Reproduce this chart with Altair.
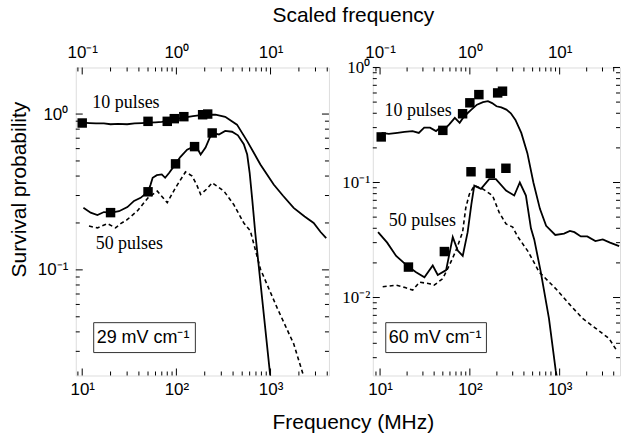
import altair as alt
import pandas as pd
import math

# ---------------- data ----------------
# Left panel (29 mV/cm)
L10_F = [10, 12, 14, 17, 20, 24, 30, 36, 43, 50, 60, 70, 80, 90, 100, 120, 150, 200, 260, 330, 440, 565, 780, 1080, 1350, 1760, 2300, 2870, 3400, 3900]
L10_P = [0.88, 0.875, 0.87, 0.87, 0.86, 0.865, 0.86, 0.87, 0.875, 0.88, 0.885, 0.89, 0.9, 0.91, 0.93, 0.95, 0.97, 0.99, 0.99, 0.96, 0.855, 0.67, 0.475, 0.353, 0.30, 0.25, 0.22, 0.20, 0.175, 0.16]

L50S_F = [10.3, 12.3, 14.5, 17, 20.4, 24.6, 30.2, 35.5, 41.7, 50, 53, 56, 62, 70, 76, 84, 98, 110, 130, 150, 165, 181, 204, 225, 240, 283, 330, 390, 450, 520, 565, 600, 640, 690, 1000, 1050]
L50S_P = [0.25, 0.233, 0.225, 0.235, 0.233, 0.238, 0.253, 0.277, 0.29, 0.317, 0.35, 0.39, 0.405, 0.41, 0.39, 0.42, 0.479, 0.53, 0.59, 0.615, 0.61, 0.55, 0.61, 0.70, 0.756, 0.74, 0.78, 0.77, 0.73, 0.64, 0.55, 0.42, 0.28, 0.17, 0.02, 0.017]

L50D_F = [11.8, 14.5, 18.5, 22.6, 25.6, 30, 38.5, 50, 62.8, 80, 97.8, 125, 147, 165, 181, 210, 240, 320, 406, 520, 610, 782, 1175, 1762, 2250, 2450]
L50D_P = [0.191, 0.186, 0.198, 0.186, 0.198, 0.21, 0.239, 0.29, 0.32, 0.27, 0.336, 0.425, 0.40, 0.35, 0.305, 0.33, 0.362, 0.32, 0.263, 0.20, 0.178, 0.101, 0.057, 0.0335, 0.0207, 0.018]

L10_SQ_F = [10, 50, 80, 95, 120, 190, 215]
L10_SQ_P = [0.876, 0.898, 0.898, 0.934, 0.962, 0.99, 1.0]
L50_SQ_F = [20, 50, 98, 156, 240]
L50_SQ_P = [0.233, 0.317, 0.479, 0.618, 0.756]

# Right panel (60 mV/cm)
R10_F = [10.4, 12.5, 15.6, 18.7, 23, 27, 31, 36, 42, 47, 52, 59, 68, 77, 85, 94, 104, 120, 140, 159, 177, 198, 224, 255, 286, 322, 374, 437, 510, 603, 707, 894, 1120, 1300, 1460, 1720, 2030, 2500, 3020, 3640, 4600]
R10_P = [0.27, 0.265, 0.27, 0.275, 0.28, 0.27, 0.30, 0.30, 0.28, 0.30, 0.29, 0.32, 0.365, 0.33, 0.37, 0.40, 0.43, 0.475, 0.50, 0.51, 0.49, 0.46, 0.45, 0.43, 0.40, 0.35, 0.27, 0.18, 0.10, 0.059, 0.042, 0.035, 0.036, 0.038, 0.037, 0.034, 0.034, 0.031, 0.032, 0.030, 0.028]

R50S_F = [9.5, 12, 15.1, 20.7, 25.2, 31.2, 38.6, 43.9, 54.4, 64.5, 73.3, 83.3, 94.5, 104, 112, 133, 164, 195, 253, 312, 360, 421, 479, 521, 616, 760, 905, 960]
R50S_P = [0.037, 0.03, 0.023, 0.0185, 0.0166, 0.015, 0.019, 0.0157, 0.0173, 0.0335, 0.0256, 0.023, 0.037, 0.065, 0.094, 0.088, 0.107, 0.107, 0.085, 0.077, 0.10, 0.077, 0.04, 0.032, 0.0167, 0.0066, 0.0023, 0.0018]

R50D_F = [10.7, 15.1, 19, 23.1, 27.5, 35.5, 40, 49.9, 59, 70, 83, 90, 98.6, 112, 139, 179, 212, 253, 300, 340, 450, 590, 908, 1276, 1792, 2523, 3548, 4385]
R50D_P = [0.0124, 0.0128, 0.0122, 0.0116, 0.0136, 0.0132, 0.0128, 0.0146, 0.019, 0.0256, 0.037, 0.06, 0.079, 0.094, 0.088, 0.077, 0.055, 0.0436, 0.041, 0.034, 0.0248, 0.0167, 0.0119, 0.0088, 0.0066, 0.0054, 0.0044, 0.0034]

R10_SQ_F = [10.3, 50, 83, 100, 126, 204, 231]
R10_SQ_P = [0.249, 0.284, 0.396, 0.493, 0.581, 0.601, 0.622]
R50_SQ_F = [20.7, 52, 103, 169, 252]
R50_SQ_P = [0.0184, 0.0251, 0.124, 0.12, 0.133]

# annotation labels and their anchor points (MHz, probability)
L_NOTES = ["10 pulses", "50 pulses"]
L_NOTE_F = [12.8, 13.9]
L_NOTE_P = [1.18, 0.146]
R_NOTES = ["10 pulses", "50 pulses"]
R_NOTE_F = [11.2, 12.5]
R_NOTE_P = [0.42, 0.0466]

FIELD_LABELS = ["29 mV cm\u207b\u00b9", "60 mV cm\u207b\u00b9"]

# tick positions
X_MAJOR = [10, 100, 1000]
X_MINOR = [9, 20, 30, 40, 50, 60, 70, 80, 90, 200, 300, 400, 500, 600, 700, 800, 900, 2000, 3000, 4000]
YL_MAJOR = [0.1, 1]
YL_MINOR = [0.03, 0.04, 0.05, 0.06, 0.07, 0.08, 0.09, 0.2, 0.3, 0.4, 0.5, 0.6, 0.7, 0.8, 0.9]
YR_MAJOR = [0.01, 0.1, 1]
YR_MINOR = [0.003, 0.004, 0.005, 0.006, 0.007, 0.008, 0.009, 0.02, 0.03, 0.04, 0.05, 0.06, 0.07, 0.08, 0.09,
            0.2, 0.3, 0.4, 0.5, 0.6, 0.7, 0.8, 0.9]

SANS = "Liberation Sans"
SERIF = "Liberation Serif"
SUP = {-3: "\u207b\u00b3", -2: "\u207b\u00b2", -1: "\u207b\u00b9", 0: "\u2070", 1: "\u00b9", 2: "\u00b2", 3: "\u00b3", 4: "\u2074"}


def label_expr(exps, offset=0):
    e = "round(log(datum.value)/LN10)"
    s = "''"
    for k in exps:
        s = f"({e} == {k} ? '10{SUP[k + offset]}' : {s})"
    return s


def long_df(series):
    rows = []
    for name, F, P in series:
        for f, p in zip(F, P):
            rows.append({"s": name, "f": f, "p": p})
    return pd.DataFrame(rows)


def panel(xdom, ydom, W, H, solid, dashed, sq, notes, box_label, box, ymajor, yminor,
          ylab_font, ylab_pad, left_titles):
    xs = alt.Scale(type="log", domain=xdom)
    ys = alt.Scale(type="log", domain=ydom)
    yexps = [round(math.log10(v)) for v in ymajor]

    if left_titles:
        bx_title = dict(title="Frequency (MHz)", titleX=278, titleY=47, titleAlign="center",
                        titleBaseline="middle", titleFontSize=21, titleFont=SANS, titleFontWeight="normal")
        tx_title = dict(title="Scaled frequency", titleX=278, titleY=-52, titleAlign="center",
                        titleBaseline="middle", titleFontSize=21, titleFont=SANS, titleFontWeight="normal")
        y_title = dict(title="Survival probability", titleAngle=270, titleX=-56, titleY=122,
                       titleAlign="center", titleBaseline="middle", titleFontSize=21, titleFont=SANS,
                       titleFontWeight="normal")
    else:
        bx_title = dict(title="")
        tx_title = dict(title="")
        y_title = dict(title="")

    bottom_axis = alt.Axis(values=X_MAJOR, labelExpr=label_expr([1, 2, 3]), ticks=False, domain=False,
                           grid=False, labelPadding=6, labelFont=SANS, labelFontSize=17, labelFlush=False,
                           labelOverlap=False, labelColor="black", **bx_title)
    top_axis = alt.Axis(orient="top", values=X_MAJOR, labelExpr=label_expr([1, 2, 3], offset=-2), ticks=False,
                        domain=False, grid=False, labelPadding=6, labelFont=SANS, labelFontSize=17,
                        labelFlush=False, labelOverlap=False, labelColor="black", **tx_title)
    y_axis = alt.Axis(orient="left", values=ymajor, labelExpr=label_expr(yexps), ticks=False, domain=False,
                      grid=False, labelPadding=ylab_pad, labelFont=ylab_font, labelFontSize=17,
                      labelOverlap=False, labelColor="black", **y_title)

    solid_df = long_df(solid)
    dashed_df = long_df(dashed)
    sq_df = long_df(sq)
    notes_df = pd.DataFrame({"t": notes[0], "f": notes[1], "p": notes[2]})

    lines = alt.Chart(solid_df).mark_line(color="black", strokeWidth=1.8, clip=True).encode(
        x=alt.X("f:Q", scale=xs, axis=bottom_axis),
        y=alt.Y("p:Q", scale=ys, axis=y_axis),
        detail="s:N",
    )
    dash = alt.Chart(dashed_df).mark_line(color="black", strokeWidth=1.6, strokeDash=[4, 3], clip=True).encode(
        x=alt.X("f:Q", scale=xs, axis=None),
        y=alt.Y("p:Q", scale=ys, axis=None),
        detail="s:N",
    )
    squares = alt.Chart(sq_df).mark_square(color="black", size=90, opacity=1).encode(
        x=alt.X("f:Q", scale=xs, axis=top_axis),
        y=alt.Y("p:Q", scale=ys, axis=None),
    )
    texts = alt.Chart(notes_df).mark_text(font=SERIF, fontSize=18, align="left", baseline="middle",
                                          color="black").encode(
        x=alt.X("f:Q", scale=xs, axis=None),
        y=alt.Y("p:Q", scale=ys, axis=None),
        text="t:N",
    )

    layers = [lines, dash, squares, texts]

    def xt(vals, y0, y1):
        return alt.Chart(pd.DataFrame({"v": vals})).mark_rule(color="black", strokeWidth=1).encode(
            x=alt.X("v:Q", scale=xs, axis=None), y=alt.value(y0), y2=alt.value(y1))

    def yt(vals, x0, x1):
        return alt.Chart(pd.DataFrame({"v": vals})).mark_rule(color="black", strokeWidth=1).encode(
            y=alt.Y("v:Q", scale=ys, axis=None), x=alt.value(x0), x2=alt.value(x1))

    layers += [xt(X_MAJOR, H, H - 7), xt(X_MINOR, H, H - 4), xt(X_MAJOR, 0, 7), xt(X_MINOR, 0, 4),
               yt(ymajor, 0, 7), yt(yminor, 0, 4), yt(ymajor, W, W - 7), yt(yminor, W, W - 4)]

    bdf = pd.DataFrame({"t": [box_label]})
    x0, x1, y0, y1 = box
    rect = alt.Chart(bdf).mark_rect(fill="white", stroke="#333333", strokeWidth=1).encode(
        x=alt.value(x0), x2=alt.value(x1), y=alt.value(y0), y2=alt.value(y1))
    btxt = alt.Chart(bdf).mark_text(font=SANS, fontSize=18, align="left", baseline="middle",
                                    color="black").encode(
        text="t:N", x=alt.value(x0 + 3), y=alt.value((y0 + y1) / 2))
    layers += [rect, btxt]

    return alt.layer(*layers).resolve_axis(x="independent", y="independent").properties(width=W, height=H)


left = panel(
    [8.54, 4170], [0.021, 1.99], 254, 309,
    [("10s", L10_F, L10_P), ("50s", L50S_F, L50S_P)],
    [("50d", L50D_F, L50D_P)],
    [("10", L10_SQ_F, L10_SQ_P), ("50", L50_SQ_F, L50_SQ_P)],
    (L_NOTES, L_NOTE_F, L_NOTE_P), FIELD_LABELS[0], (18, 120, 256, 286),
    YL_MAJOR, YL_MINOR, SANS, 8, True,
)
right = panel(
    [8.3, 4700], [0.0021, 1.0], 248, 309,
    [("10s", R10_F, R10_P), ("50s", R50S_F, R50S_P)],
    [("50d", R50D_F, R50D_P)],
    [("10", R10_SQ_F, R10_SQ_P), ("50", R50_SQ_F, R50_SQ_P)],
    (R_NOTES, R_NOTE_F, R_NOTE_P), FIELD_LABELS[1], (13, 114, 256, 286),
    YR_MAJOR, YR_MINOR, SERIF, 3, False,
)

chart = alt.hconcat(left, right, spacing=44, bounds="flush").properties(
    padding={"left": 8, "top": 3, "right": 0, "bottom": 0}
).configure_view(stroke="black", strokeWidth=1.2).configure(background="white")

chart.save("out.html", embed_options={"renderer": "svg", "actions": False})
